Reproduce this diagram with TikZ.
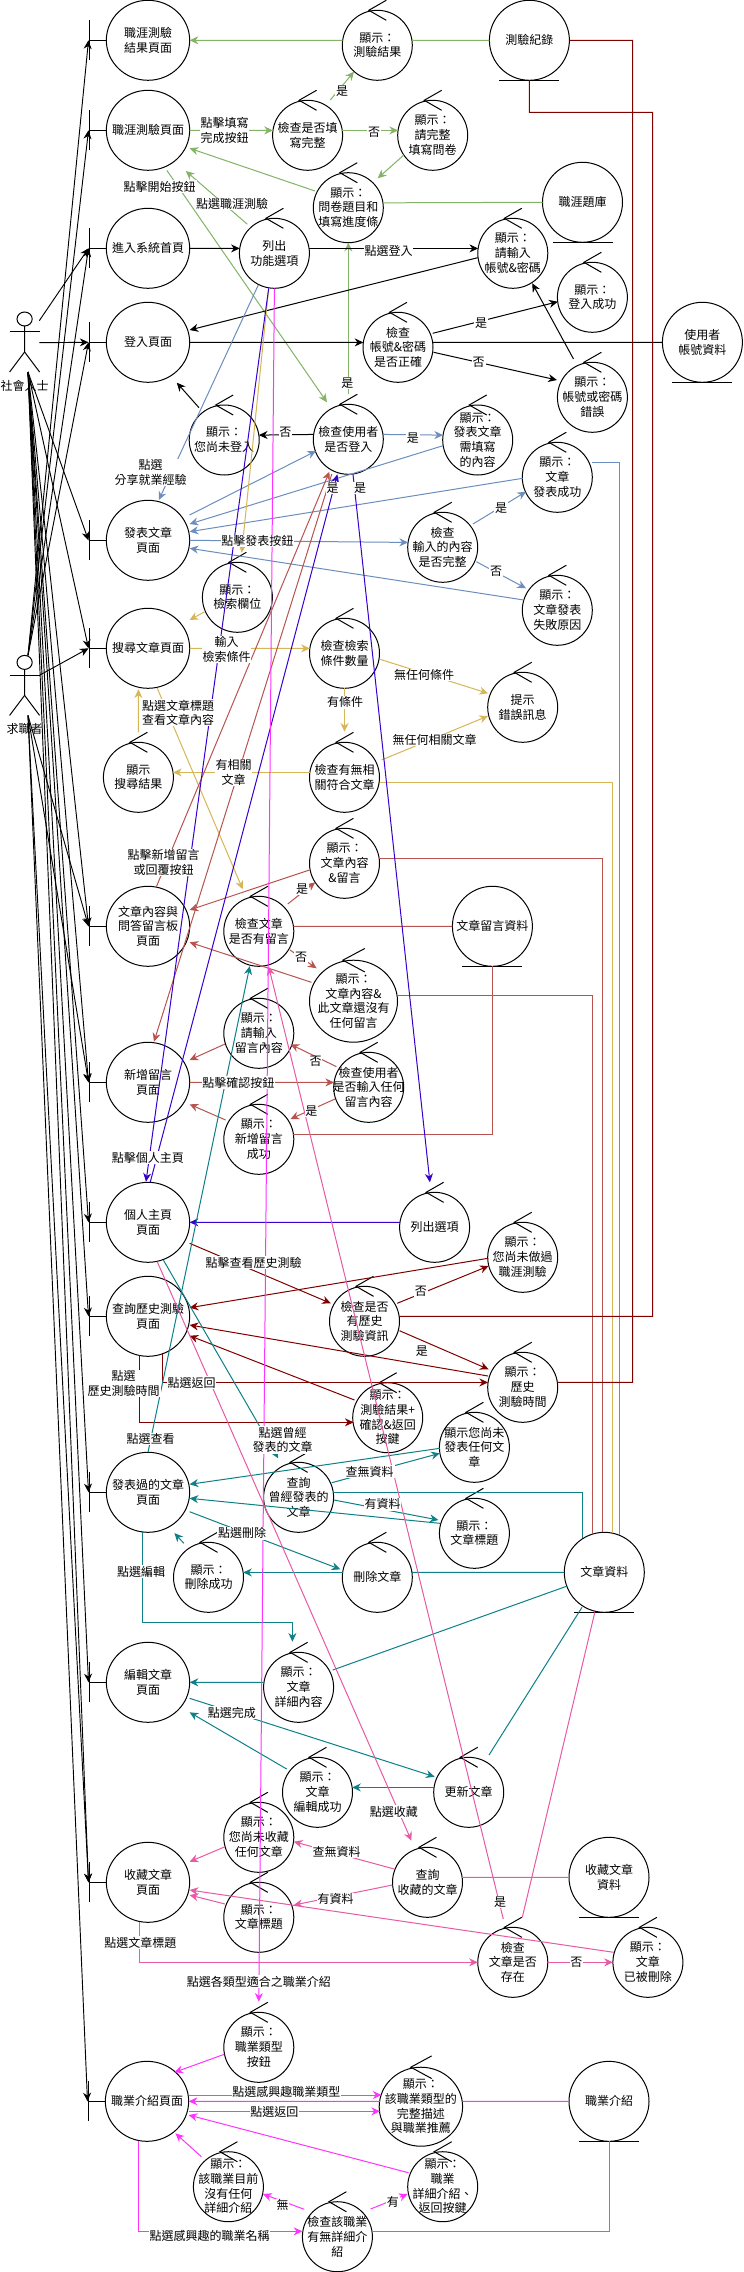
\documentclass[tikz,border=0pt]{standalone}
\usepackage{fontspec}
\setmainfont{Noto Sans CJK TC}
\usetikzlibrary{calc,arrows.meta,shapes.geometric}
\pgfdeclarelayer{back}
\pgfsetlayers{back,main}
\definecolor{cgr}{HTML}{82B366}
\definecolor{cbl}{HTML}{6C8EBF}
\definecolor{cyl}{HTML}{D6B656}
\definecolor{crd}{HTML}{B85450}
\definecolor{cdr}{HTML}{800000}
\definecolor{cpu}{HTML}{3700CC}
\definecolor{cte}{HTML}{0E8088}
\definecolor{cpk}{HTML}{E85AA4}
\definecolor{cmg}{HTML}{FF33FF}
\tikzset{
  shapeline/.style={draw=black,line width=0.75pt,fill=white,ellipse,inner sep=0pt,outer sep=0pt},
  nodetext/.style={font=\fontsize{9}{11}\selectfont,align=center,inner sep=0pt,text=black},
  edgetext/.style={font=\fontsize{9}{11}\selectfont,align=center,inner sep=0.6pt,fill=white,text=black},
  glyph/.style={draw=black,line width=0.75pt},
  wire/.style={line width=0.75pt},
  tip/.style={-{Stealth[length=6.5pt,width=6pt]}},
  kk/.style={wire,draw=black},
  gr/.style={wire,draw=cgr},
  bl/.style={wire,draw=cbl},
  yl/.style={wire,draw=cyl},
  rd/.style={wire,draw=crd},
  dr/.style={wire,draw=cdr},
  pu/.style={wire,draw=cpu},
  te/.style={wire,draw=cte},
  pk/.style={wire,draw=cpk},
  mg/.style={wire,draw=cmg},
  fan/.style={line width=0.7pt,draw=black,tip}
}
\newcommand{\bnd}[4]{%
  \node[shapeline,minimum width=62.5pt,minimum height=60pt,label={[nodetext]center:{#4}}] (#1) at (#2,#3) {};
  \draw[glyph] ($(#1)+(-41.7,0)$) -- ($(#1)+(-58.4,0)$);
  \draw[glyph] ($(#1)+(-58.4,-20)$) -- ($(#1)+(-58.4,20)$);
}
\newcommand{\ctrlsized}[6]{%
  \node[shapeline,minimum width={1.5pt*#4},minimum height={1.5pt*#5},label={[nodetext]center:{#6}}] (#1) at (#2,#3) {};
  \draw[glyph] ($(#1)+({0.257*#4},{-1.286*#5})$) -- ($(#1)+({-0.243*#4},{-#5})$) -- ($(#1)+({0.257*#4},{-0.714*#5})$);
}
\newcommand{\ctrl}[4]{\ctrlsized{#1}{#2}{#3}{35}{35}{#4}}
\newcommand{\ent}[4]{%
  \node[shapeline,minimum width=60pt,minimum height=60pt,label={[nodetext]center:{#4}}] (#1) at (#2,#3) {};
  \draw[glyph] ($(#1)+(-30,40)$) -- ($(#1)+(30,40)$);
}
\newcommand{\actr}[4]{%
  \node[inner sep=0pt,outer sep=0pt,minimum width=22.7pt,minimum height=45pt,label={[nodetext,yshift=-6pt]below:{#4}}] (#1) at (#2,#3) {};
  \draw[glyph] ($(#1)+(0,-23)$) circle [x radius=7.6,y radius=7];
  \draw[glyph] ($(#1)+(0,-16)$) -- ($(#1)+(0,10)$) -- ($(#1)+(-15,30)$);
  \draw[glyph] ($(#1)+(0,10)$) -- ($(#1)+(15,30)$);
  \draw[glyph] ($(#1)+(-15,-10)$) -- ($(#1)+(15,-10)$);
}
\begin{document}
\begin{tikzpicture}[x=0.75pt,y=-0.75pt]
\useasboundingbox (0,0) rectangle (743,2272);
\fill[white] (0,0) rectangle (743,2272);
% actors
\actr{aS}{24.6}{342}{社會人士}
\actr{aJ}{24.6}{685.4}{求職者}
% boundaries
\bnd{bResult}{148}{40.3}{職涯測驗\\結果頁面}
\bnd{bQuiz}{148}{130.3}{職涯測驗頁面}
\bnd{bHome}{148}{248.3}{進入系統首頁}
\bnd{bLogin}{148}{342.3}{登入頁面}
\bnd{bPost}{148}{540.3}{發表文章\\頁面}
\bnd{bSearch}{148}{648.3}{搜尋文章頁面}
\bnd{bArt}{148}{926.3}{文章內容與\\問答留言板\\頁面}
\bnd{bAdd}{148}{1082.3}{新增留言\\頁面}
\bnd{bMe}{148}{1222.3}{個人主頁\\頁面}
\bnd{bHist}{148}{1316.3}{查詢歷史測驗\\頁面}
\bnd{bPosted}{148}{1492.3}{發表過的文章\\頁面}
\bnd{bEdit}{148}{1682.3}{編輯文章\\頁面}
\bnd{bFav}{148}{1882.3}{收藏文章\\頁面}
\bnd{bJob}{147}{2101.3}{職業介紹頁面}
% entities
\ent{eRec}{529.4}{40.3}{測驗紀錄}
\ent{eBank}{582.5}{202.3}{職涯題庫}
\ent{eUser}{702.4}{342.3}{使用者\\帳號資料}
\ent{eCmt}{492.4}{926.3}{文章留言資料}
\ent{eArt}{604.3}{1572.3}{文章資料}
\ent{eFav}{609}{1877.3}{收藏文章\\資料}
\ent{eJob}{609}{2101.3}{職業介紹}
% controllers
\ctrl{cResult}{377.3}{45.3}{顯示：\\測驗結果}
\ctrl{cFill}{307.6}{135.3}{檢查是否填\\寫完整}
\ctrl{cAsk}{432.7}{135.3}{顯示：\\請完整\\填寫問卷}
\ctrl{cQ}{348.3}{207.7}{顯示：\\問卷題目和\\填寫進度條}
\ctrl{cMenu}{274.4}{253.3}{列出\\功能選項}
\ctrl{cIn}{512.8}{253.3}{顯示：\\請輸入\\帳號\&密碼}
\ctrl{cOK}{592.4}{297.3}{顯示：\\登入成功}
\ctrl{cChk}{398}{347.3}{檢查\\帳號\&密碼\\是否正確}
\ctrl{cBad}{592.4}{397.3}{顯示：\\帳號或密碼\\錯誤}
\ctrl{cNo}{224.2}{440}{顯示：\\您尚未登入}
\ctrl{cLogin}{348.3}{439.3}{檢查使用者\\是否登入}
\ctrl{cNeed}{477.7}{440}{顯示：\\發表文章\\需填寫\\的內容}
\ctrl{cPOK}{557.3}{477.3}{顯示：\\文章\\發表成功}
\ctrl{cInp}{442.7}{547.3}{檢查\\輸入的內容\\是否完整}
\ctrl{cPF}{557.3}{610.3}{顯示：\\文章發表\\失敗原因}
\ctrl{cKey}{237.4}{597.3}{顯示：\\檢索欄位}
\ctrl{cCnt}{344.5}{653.3}{檢查檢索\\條件數量}
\ctrl{cTip}{522.7}{707.3}{提示\\錯誤訊息}
\ctrl{cRes}{138.4}{777.3}{顯示\\搜尋結果}
\ctrl{cRel}{344.5}{777.3}{檢查有無相\\關符合文章}
\ctrl{cCom}{344.5}{863.3}{顯示：\\文章內容\\\&留言}
\ctrl{cArt}{258.8}{931.3}{檢查文章\\是否有留言}
\ctrlsized{cNone}{353.5}{1001.2}{44}{41}{顯示：\\文章內容\&\\此文章還沒有\\任何留言}
\ctrl{cTyp}{258.8}{1033.3}{顯示：\\請輸入\\留言內容}
\ctrl{cEmp}{368.7}{1087.3}{檢查使用者\\是否輸入任何\\留言內容}
\ctrl{cDone}{258.8}{1139.3}{顯示：\\新增留言\\成功}
\ctrl{cOpt}{434.6}{1227.3}{列出選項}
\ctrl{cNT}{522.7}{1257.3}{顯示：\\您尚未做過\\職涯測驗}
\ctrl{cH}{364.5}{1321.3}{檢查是否\\有歷史\\測驗資訊}
\ctrl{cHT}{522.7}{1387.3}{顯示：\\歷史\\測驗時間}
\ctrl{cRtwo}{387.7}{1417.7}{顯示：\\測驗結果+\\確認\&返回\\按鍵}
\ctrl{cNP}{474.4}{1447.3}{顯示您尚未\\發表任何文\\章}
\ctrl{cQP}{298.6}{1497.3}{查詢\\曾經發表的\\文章}
\ctrl{cTT}{474.4}{1533.3}{顯示：\\文章標題}
\ctrl{cDelOK}{208.5}{1577.3}{顯示：\\刪除成功}
\ctrl{cDel}{377.3}{1577.3}{刪除文章}
\ctrl{cDet}{298.6}{1687.3}{顯示：\\文章\\詳細內容}
\ctrl{cEOK}{317.5}{1792.3}{顯示：\\文章\\編輯成功}
\ctrl{cUp}{468.7}{1792.3}{更新文章}
\ctrl{cNF}{258.8}{1837.3}{顯示：\\您尚未收藏\\任何文章}
\ctrl{cQF}{427.5}{1882.3}{查詢\\收藏的文章}
\ctrl{cFT}{258.8}{1917.3}{顯示：\\文章標題}
\ctrl{cEx}{512.8}{1962.3}{檢查\\文章是否\\存在}
\ctrl{cGone}{647.9}{1962.3}{顯示：\\文章\\已被刪除}
\ctrl{cType}{258.8}{2047.3}{顯示：\\職業類型\\按鈕}
\ctrlsized{cFull}{420.9}{2106.7}{41.7}{39.5}{顯示：\\該職業類型的\\完整描述\\與職業推薦}
\ctrl{cNoJ}{228.4}{2186.7}{顯示：\\該職業目前\\沒有任何\\詳細介紹}
\ctrl{cJD}{442.7}{2186.7}{顯示：\\職業\\詳細介紹、\\返回按鍵}
\ctrl{cChkJ}{337.4}{2236.7}{檢查該職業\\有無詳細介\\紹}
% actor fan
\draw[fan] ($(aS)+(14.7,-21.3)$) -- ($(bHome)+(-59.5,0)$);
\draw[fan] ($(aS)+(14.7,0.7)$) -- ($(bLogin)+(-59.5,0)$);
\foreach \tgt in {bPost,bSearch,bArt,bAdd,bMe,bHist,bPosted,bEdit,bFav}
  \draw[fan] ($(aS)+(3.4,30)$) -- ($(\tgt)+(-59.5,0)$);
\foreach \tgt in {bResult,bQuiz,bHome,bLogin}
  \draw[fan] ($(aJ)+(3.4,-30)$) -- ($(\tgt)+(-59.5,0)$);
\draw[fan] ($(aJ)+(15.4,-10.4)$) -- ($(bSearch)+(-59.5,0)$);
\foreach \tgt in {bArt,bAdd,bFav,bJob}
  \draw[fan] ($(aJ)+(3.4,30)$) -- ($(\tgt)+(-59.5,0)$);
% green
\draw[gr,tip] (cResult.172) -- (bResult.east);
\draw[gr] (eRec.west) -- (cResult.8);
\draw[gr,tip] (bQuiz.east) -- (cFill.172);
\draw[gr,tip] ($(cFill)+(22.7,-35.3)$) -- ($(cResult)+(-23.3,26.4)$);
\draw[gr,tip] (cFill.8) -- (cAsk.172);
\draw[gr,tip] ($(cAsk)+(-28.9,19.7)$) -- ($(cQ)+(29.4,-29.4)$);
\draw[gr,tip] ($(cQ)+(-33.3,-16.7)$) -- ($(bQuiz)+(41.6,18)$);
\draw[gr] (eBank.west) -- (cQ.8);
\draw[gr,tip] ($(cMenu)+(-27,-29)$) -- ($(bQuiz)+(37.8,40.7)$);
\draw[gr,tip] ($(bQuiz)+(18.8,40)$) -- ($(cLogin)+(-21.3,-37)$);
\draw[gr,tip] ($(cLogin)+(0,-45)$) -- (cQ.south);
% black
\draw[kk,tip] (bHome.east) -- (cMenu.172);
\draw[kk,tip] (cMenu.8) -- (cIn.172);
\draw[kk,tip] ($(cIn)+(-35.1,4.4)$) -- ($(bLogin)+(41.6,-12.3)$);
\draw[kk,tip] (bLogin.east) -- (cChk.172);
\draw[kk,tip] ($(cChk)+(34.7,-14)$) -- ($(cOK)+(-34.6,4.4)$);
\draw[kk] (cChk.8) -- (eUser.west);
\draw[kk,tip] ($(cChk)+(35.6,5)$) -- ($(cBad)+(-35.5,-17.3)$);
\draw[kk,tip] ($(cBad)+(-18.9,-38.3)$) -- ($(cIn)+(19.4,30)$);
\draw[kk,tip] ($(cNo)+(-25.2,-32.3)$) -- ($(bLogin)+(28.8,40.4)$);
\draw[kk,tip] (cLogin.172) -- (cNo.8);
% blue
\draw[bl,tip] ($(cMenu)+(-16.1,31.7)$) -- ($(bPost)+(10.8,-40.3)$);
\draw[bl,tip] ($(bPost)+(41.6,-25.3)$) -- ($(cLogin)+(-32.3,11.7)$);
\draw[bl,tip] (cLogin.8) -- (cNeed.172);
\draw[bl,tip] ($(cNeed)+(-34.7,5.7)$) -- ($(bPost)+(41.6,-16.3)$);
\draw[bl,tip] ($(cPOK)+(-34.6,1)$) -- ($(bPost)+(41.6,-8.6)$);
\draw[bl,tip] (bPost.east) -- (cInp.172);
\draw[bl,tip] ($(cInp)+(30.3,-23.3)$) -- ($(cPOK)+(-31.3,14.4)$);
\draw[bl,tip] ($(cInp)+(33.6,14.4)$) -- ($(cPF)+(-31.3,-22)$);
\draw[bl,tip] ($(cPF)+(-33.6,-10.3)$) -- ($(bPost)+(41.6,8)$);
\draw[bl] ($(cPOK)+(35.1,-15)$) -| ($(eArt)+(15.1,-37)$);
% gold
\draw[yl,tip] ($(cMenu)+(-5.7,35)$) -- ($(cKey)+(4.3,-44.6)$);
\draw[yl,tip] ($(cKey)+(-32.7,14.4)$) -- ($(bSearch)+(41.6,-28.3)$);
\draw[yl,tip] (bSearch.east) -- (cCnt.172);
\begin{pgfonlayer}{back}
\draw[yl,tip] ($(cTip)+(-34.7,-9.6)$) -- ($(bSearch)+(41.6,6.7)$);
\end{pgfonlayer}
\draw[yl,tip] ($(cCnt)+(35.5,6)$) -- ($(cTip)+(-34.7,-14)$);
\draw[yl,tip] (cCnt.south) -- ($(cRel)+(0,-45.6)$);
\draw[yl,tip] ($(cRel)+(37,-17.3)$) -- ($(cTip)+(-34.7,8.7)$);
\draw[yl,tip] (cRel.172) -- (cRes.8);
\draw[yl,tip] ($(cRes)+(0,-45)$) -- ($(bSearch)+(-9.6,41)$);
\draw[yl,tip] ($(bSearch)+(9.3,40)$) -- ($(cArt)+(-16.1,-42)$);
\draw[yl] ($(cRel)+(35.5,5.4)$) -| ($(eArt)+(8.5,-39)$);
% red
\draw[rd,tip] ($(bArt)+(8.4,-39.6)$) -- ($(cLogin)+(-18.9,32.4)$);
\draw[rd,tip] ($(cLogin)+(-16.5,34.7)$) -- ($(bAdd)+(6,-40.6)$);
\draw[rd,tip] ($(cArt)+(28.9,-27.3)$) -- ($(cCom)+(-29.3,19)$);
\draw[rd,tip] ($(cCom)+(-35,6.7)$) -- ($(bArt)+(41.6,-16.3)$);
\draw[rd] (cCom.8) -| ($(eArt)+(-1.9,-40)$);
\draw[rd] (cArt.8) -- (eCmt.west);
\draw[rd,tip] ($(cArt)+(31.2,18.7)$) -- ($(cNone)+(-36.9,-32.9)$);
\draw[rd,tip] ($(cNone)+(-42.1,-18.9)$) -- ($(bArt)+(41.6,16)$);
\draw[rd] ($(cNone)+(43.7,-5.9)$) -| ($(eArt)+(-11.9,-38)$);
\draw[rd,tip] ($(cTyp)+(-33.8,10.7)$) -- ($(bAdd)+(41.6,-22.3)$);
\draw[rd,tip] (bAdd.east) -- (cEmp.172);
\draw[rd,tip] ($(cEmp)+(-32.2,-20.6)$) -- ($(cTyp)+(31.7,11)$);
\draw[rd,tip] ($(cEmp)+(-33.7,11.7)$) -- ($(cDone)+(31.7,-20.3)$);
\draw[rd,tip] ($(cDone)+(-33.2,-19.3)$) -- ($(bAdd)+(41.6,22)$);
\draw[rd] (cDone.8) -| (eCmt.south);
% purple
\draw[pu,tip] ($(cMenu)+(-5.7,35)$) -- ($(bMe)+(-2,-40.6)$);
\draw[pu,tip] ($(bMe)+(2.2,-40)$) -- ($(cLogin)+(-10.9,35)$);
\draw[pu,tip] ($(cLogin)+(4.7,35)$) -- ($(cOpt)+(-4.7,-45)$);
\draw[pu,tip] (cOpt.172) -- (bMe.east);
% dark red
\draw[dr] (eRec.east) -| ($(cHT)+(110,-5)$) -- (cHT.8);
\draw[dr] (eRec.south) -- ++(0,32) -| ($(cH)+(288.1,-5)$) -- (cH.8);
\draw[dr,tip] ($(bMe)+(41.6,21)$) -- ($(cH)+(-33.7,-18)$);
\draw[dr,tip] ($(cH)+(32.7,-18)$) -- ($(cNT)+(-34.1,8.7)$);
\draw[dr,tip] ($(cNT)+(-34.7,1)$) -- ($(bHist)+(41.6,-8.6)$);
\draw[dr,tip] ($(cH)+(35,9.4)$) -- ($(cHT)+(-34.1,-18)$);
\draw[dr,tip] ($(cHT)+(-34.7,-11.3)$) -- ($(bHist)+(41.6,8.7)$);
\draw[dr,tip] ($(bHist)+(14.6,37.5)$) |- (cHT.172);
\draw[dr,tip] ($(bHist)+(-8.7,39.1)$) |- ($(cRtwo)+(-34.1,4.6)$);
\draw[dr,tip] ($(cRtwo)+(-33.2,-17.7)$) -- ($(bHist)+(41.6,19.4)$);
% teal
\draw[te,tip] (bPosted.north) -- ($(cArt)+(-9,34.7)$);
\draw[te,tip] ($(bMe)+(15.5,38)$) -- ($(cQP)+(-20.4,-39)$);
\draw[te,tip] ($(cQP)+(33.2,-14.6)$) -- ($(cNP)+(-34.6,6)$);
\draw[te,tip] ($(cNP)+(-34.6,1)$) -- ($(bPosted)+(41.6,-8)$);
\draw[te,tip] ($(cQP)+(35.4,2.7)$) -- ($(cTT)+(-36,-13.3)$);
\draw[te,tip] ($(cTT)+(-34.6,-10)$) -- ($(bPosted)+(41.6,6)$);
\draw[te] (cQP.8) -| ($(eArt)+(-21.8,-34)$);
\draw[te,tip] ($(bPosted)+(41.6,19.4)$) -- ($(cDel)+(-37,-8)$);
\draw[te,tip] (cDel.172) -- (cDelOK.8);
\draw[te,tip] ($(cDelOK)+(-24.6,-34)$) -- ($(bPosted)+(26.4,40.8)$);
\draw[te] (cDel.8) -- (eArt.west);
\draw[te,tip] ($(bPosted)+(-5.3,40)$) -- ++(0,90) -| ($(cDet)+(-6.2,-45.6)$);
\draw[te,tip] (cDet.172) -- (bEdit.east);
\draw[te] ($(eArt)+(-37,13.7)$) -- ($(cDet)+(34.1,-17.3)$);
\draw[te,tip] ($(bEdit)+(41.6,16)$) -- ($(cUp)+(-34.1,-15.6)$);
\draw[te,tip] (cUp.172) -- (cEOK.8);
\draw[te,tip] ($(cEOK)+(-30.8,-23.3)$) -- ($(bEdit)+(41.6,30)$);
\draw[te] ($(eArt)+(-22.3,35)$) -- ($(cUp)+(20.3,-37.3)$);
% pink
\draw[pk,tip] ($(bMe)+(9.3,39.5)$) -- ($(cQF)+(-16.1,-41.6)$);
\draw[pk,tip] ($(cQF)+(-33.2,-13.3)$) -- ($(cNF)+(35,4.4)$);
\draw[pk,tip] ($(cNF)+(-33.8,9.4)$) -- ($(bFav)+(41.6,-20.6)$);
\draw[pk,tip] ($(cQF)+(-35.1,2.7)$) -- ($(cFT)+(35,-12.3)$);
\draw[pk,tip] ($(cFT)+(-33.8,-13.3)$) -- ($(bFav)+(41.6,12.7)$);
\draw[pk] (cQF.8) -- (eFav.west);
\draw[pk,tip] ($(bFav)+(-8.7,39.5)$) |- (cEx.west);
\draw[pk,tip] ($(cEx)+(-9.5,-43.3)$) -- ($(cArt)+(9.9,35.4)$);
\draw[pk,tip] (cEx.east) -- (cGone.west);
\draw[pk,tip] ($(cGone)+(-34.2,-10)$) -- ($(bFav)+(41.6,7.7)$);
\draw[pk] ($(eArt)+(-9.5,40)$) -- ($(cEx)+(9.5,-45)$);
% magenta
\draw[mg,tip] (cMenu.south) -- ($(cType)+(0,-45.6)$);
\draw[mg,tip] ($(cType)+(-34.6,7)$) -- ($(bJob)+(27.4,-29)$);
\draw[mg,tip] ($(bJob)+(41.6,-6.3)$) -- ($(cFull)+(-39.4,-11.7)$);
\draw[mg,tip] ($(cFull)+(-40.9,-5.4)$) -- (bJob.east);
\draw[mg,tip] ($(bJob)+(41.6,10)$) -- ($(cFull)+(-40.9,4.6)$);
\draw[mg] ($(cFull)+(41.7,-5.4)$) -- (eJob.west);
\draw[mg,tip] ($(bJob)+(-8.6,40)$) |- ($(cChkJ)+(-35,-5.4)$);
\draw[mg,tip] ($(cChkJ)+(-33.1,-27.4)$) -- ($(cNoJ)+(34.6,7.3)$);
\draw[mg,tip] ($(cNoJ)+(-27,-30)$) -- ($(bJob)+(28.4,32)$);
\draw[mg,tip] ($(cChkJ)+(33.2,-27.7)$) -- ($(cJD)+(-35.1,7.3)$);
\draw[mg,tip] ($(cJD)+(-34.2,-14)$) -- ($(bJob)+(41.6,13.7)$);
\draw[mg] ($(cChkJ)+(35.1,-5.4)$) -| (eJob.south);
% edge labels
\node[edgetext] (l01) at (224.6,130.7) {點擊填寫\\完成按鈕};
\node[edgetext] (l02) at (342,90.7) {是};
\node[edgetext] (l03) at (374,132.7) {否};
\node[edgetext] (l04) at (232,204) {點選職涯測驗};
\node[edgetext] (l05) at (159.7,186.7) {點擊開始按鈕};
\node[edgetext] (l06) at (347.4,382.7) {是};
\node[edgetext] (l07) at (388.6,251) {點選登入};
\node[edgetext] (l08) at (481,322.7) {是};
\node[edgetext] (l09) at (478.7,362.7) {否};
\node[edgetext] (l10) at (285.3,432.7) {否};
\node[edgetext] (l11) at (150.7,472.3) {點選\\分享就業經驗};
\node[edgetext] (l12) at (412.8,437.7) {是};
\node[edgetext] (l13) at (257.3,541) {點擊發表按鈕};
\node[edgetext] (l14) at (501,508.3) {是};
\node[edgetext] (l15) at (496.2,571) {否};
\node[edgetext] (l16) at (226.5,649.3) {輸入\\檢索條件};
\node[edgetext] (l17) at (424,675) {無任何條件};
\node[edgetext] (l18) at (345,702.3) {有條件};
\node[edgetext] (l19) at (434.6,740) {無任何相關文章};
\node[edgetext] (l20) at (233.6,772.7) {有相關\\文章};
\node[edgetext] (l21) at (178.2,712.7) {點選文章標題\\查看文章內容};
\node[edgetext] (l22) at (163.5,862.7) {點擊新增留言\\或回覆按鈕};
\node[edgetext] (l23) at (332.7,488.3) {是};
\node[edgetext] (l24) at (360.2,487.7) {是};
\node[edgetext] (l25) at (302,889.3) {是};
\node[edgetext] (l26) at (301,957.7) {否};
\node[edgetext] (l27) at (238.4,1082.7) {點擊確認按鈕};
\node[edgetext] (l28) at (315.6,1061.7) {否};
\node[edgetext] (l29) at (311.4,1110.7) {是};
\node[edgetext] (l30) at (147.9,1157.7) {點擊個人主頁};
\node[edgetext] (l31) at (253.6,1262.7) {點擊查看歷史測驗};
\node[edgetext] (l32) at (420.9,1291.7) {否};
\node[edgetext] (l33) at (421.8,1350.7) {是};
\node[edgetext] (l34) at (191.5,1382.7) {點選返回};
\node[edgetext] (l35) at (123.7,1383.3) {點選\\歷史測驗時間};
\node[edgetext] (l36) at (150.7,1439) {點選查看};
\node[edgetext] (l37) at (282.5,1440) {點選曾經\\發表的文章};
\node[edgetext] (l38) at (369.7,1471.7) {查無資料};
\node[edgetext] (l39) at (382.5,1504.3) {有資料};
\node[edgetext] (l40) at (242.2,1533.3) {點選刪除};
\node[edgetext] (l41) at (141.2,1571.7) {點選編輯};
\node[edgetext] (l42) at (231.8,1712.7) {點選完成};
\node[edgetext] (l43) at (393.8,1811.7) {點選收藏};
\node[edgetext] (l44) at (336.5,1851.7) {查無資料};
\node[edgetext] (l45) at (335.5,1899.3) {有資料};
\node[edgetext] (l46) at (140.3,1942.7) {點選文章標題};
\node[edgetext] (l47) at (500,1901.7) {是};
\node[edgetext] (l48) at (576.3,1962.3) {否};
\node[edgetext] (l49) at (258.8,1981.7) {點選各類型適合之職業介紹};
\node[edgetext] (l50) at (286.3,2091.7) {點選感興趣職業類型};
\node[edgetext] (l51) at (274.4,2112.3) {點選返回};
\node[edgetext] (l52) at (209.5,2236) {點選感興趣的職業名稱};
\node[edgetext] (l53) at (282.5,2205) {無};
\node[edgetext] (l54) at (392.9,2201.7) {有};
\end{tikzpicture}
\end{document}
